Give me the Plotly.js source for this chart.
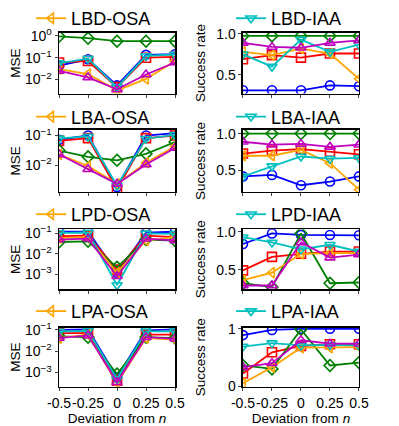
<!DOCTYPE html>
<html>
<head>
<meta charset="utf-8">
<script src="https://cdn.plot.ly/plotly-3.0.1.min.js"></script>
<style>
	html, body { margin: 0; padding: 0; background: #fff; }
	#chart { width: 399px; height: 426px; }
</style>
</head>
<body>
<div id="chart"></div>
<script>
/**
 * Data - x positions shared by every panel
 */
const deviation = [ -0.5, -0.25, 0, 0.25, 0.5 ];
const deviationLabels = [ '-0.5', '-0.25', '0', '0.25', '0.5' ];

const panelTitles = [ 'LBD-OSA', 'LBD-IAA', 'LBA-OSA', 'LBA-IAA', 'LPD-OSA', 'LPD-IAA', 'LPA-OSA', 'LPA-IAA' ];

// rows in each panel: blue, red, green, orange, cyan, magenta
const lbdOsa = [
	[ 0.043, 0.085, 0.0054, 0.135, 0.145 ],
	[ 0.06, 0.071, 0.0045, 0.1, 0.11 ],
	[ 0.95, 0.78, 0.57, 0.57, 0.57 ],
	[ 0.03, 0.018, 0.0032, 0.0107, 0.07 ],
	[ 0.057, 0.091, 0.0045, 0.12, 0.14 ],
	[ 0.025, 0.0126, 0.0036, 0.017, 0.06 ],
];
const lbdIaa = [
	[ 0.31, 0.31, 0.31, 0.37, 0.36 ],
	[ 0.69, 0.74, 0.71, 0.76, 0.76 ],
	[ 0.975, 0.975, 0.975, 0.975, 0.975 ],
	[ 0.78, 0.74, 0.82, 0.76, 0.45 ],
	[ 0.75, 0.6, 0.93, 0.78, 0.87 ],
	[ 0.89, 0.84, 0.83, 0.89, 0.92 ],
];
const lbaOsa = [
	[ 0.072, 0.1, 0.0018, 0.1, 0.12 ],
	[ 0.066, 0.082, 0.0015, 0.082, 0.1 ],
	[ 0.031, 0.019, 0.0145, 0.024, 0.06 ],
	[ 0.023, 0.0093, 0.0023, 0.012, 0.043 ],
	[ 0.08, 0.093, 0.002, 0.078, 0.105 ],
	[ 0.023, 0.0072, 0.0023, 0.0105, 0.038 ],
];
const lbaIaa = [
	[ 0.42, 0.44, 0.3, 0.35, 0.42 ],
	[ 0.73, 0.77, 0.79, 0.755, 0.72 ],
	[ 1, 1, 1, 1, 1 ],
	[ 0.7, 0.7, 0.78, 0.6, 0.24 ],
	[ 0.42, 0.56, 0.69, 0.66, 0.67 ],
	[ 0.89, 0.85, 0.86, 0.82, 0.85 ],
];
const lpdOsa = [
	[ 0.12, 0.12, 0.0012, 0.11, 0.12 ],
	[ 0.074, 0.077, 0.0017, 0.077, 0.066 ],
	[ 0.038, 0.041, 0.0022, 0.05, 0.045 ],
	[ 0.059, 0.066, 0.0012, 0.045, 0.066 ],
	[ 0.105, 0.11, 0.0003, 0.1, 0.095 ],
	[ 0.05, 0.055, 0.0008, 0.055, 0.045 ],
];
const lpdIaa = [
	[ 0.84, 0.98, 0.96, 0.96, 0.955 ],
	[ 0.49, 0.67, 0.71, 0.74, 0.74 ],
	[ 0.32, 0.27, 0.98, 0.32, 0.33 ],
	[ 0.36, 0.46, 0.71, 0.72, 0.72 ],
	[ 0.93, 0.86, 0.77, 0.83, 0.74 ],
	[ 0.29, 0.29, 0.86, 0.66, 0.7 ],
];
const lpaOsa = [
	[ 0.1, 0.105, 0.0006, 0.095, 0.105 ],
	[ 0.07, 0.07, 0.00042, 0.059, 0.059 ],
	[ 0.049, 0.045, 0.00085, 0.045, 0.041 ],
	[ 0.041, 0.059, 0.00032, 0.041, 0.035 ],
	[ 0.083, 0.09, 0.0005, 0.085, 0.085 ],
	[ 0.041, 0.055, 0.00035, 0.045, 0.038 ],
];
const lpaIaa = [
	[ 0.89, 0.98, 1.0, 1.0, 1.0 ],
	[ 0.22, 0.59, 0.7, 0.73, 0.73 ],
	[ 0.36, 0.3, 0.99, 0.36, 0.41 ],
	[ 0.05, 0.33, 0.67, 0.67, 0.68 ],
	[ 0.69, 0.75, 0.71, 0.72, 0.71 ],
	[ 0.33, 0.4, 0.8, 0.74, 0.74 ],
];

const panels = [ lbdOsa, lbdIaa, lbaOsa, lbaIaa, lpdOsa, lpdIaa, lpaOsa, lpaIaa ];

/**
 * Styles
 */
const seriesColors = [ '#0000ff', '#ff0000', '#008000', '#ffa500', '#00bfbf', '#bf00bf' ];
const seriesSymbols = [ 'circle-open', 'square-open', 'diamond-open', 'triangle-left-open', 'triangle-down-open', 'triangle-up-open' ];

const FONT = 'Liberation Sans, Arial, sans-serif';

// sub-plot boxes in paper fractions (0 = bottom)
const colDomains = [ [ 0.148, 0.4386 ], [ 0.609, 0.8997 ] ];
const rowDomains = [ [ 0.7934, 0.939 ], [ 0.5587, 0.7066 ], [ 0.3263, 0.4695 ], [ 0.0939, 0.2347 ] ];
const legendY = [ 0.9725, 0.7378, 0.5047, 0.2735 ];

// y ranges, log panels in log10 units
const yRanges = [
	[ -2.64, 0.15 ], [ 0.27, 1.016 ],
	[ -2.91, -0.81 ], [ 0.21, 1.05 ],
	[ -3.73, -0.8 ], [ 0.24, 1.035 ],
	[ -3.66, -0.9 ], [ -0.01, 1.02 ],
];

const logTicks = [ 1, 0.1, 0.01, 0.001 ];
const logLabels = [ '10<sup>0</sup>', '10<sup>\u22121</sup>', '10<sup>\u22122</sup>', '10<sup>\u22123</sup>' ];

/**
 * Build axes + traces
 */
const data = [];
const layout = {
	width: 399,
	height: 426,
	margin: { l: 0, r: 0, t: 0, b: 0 },
	paper_bgcolor: '#fff',
	plot_bgcolor: '#fff',
	font: { family: FONT, size: 14, color: '#000' },
	hovermode: false,
};

panels.forEach(( panel, i ) => {
	const row = Math.floor(i / 2);
	const col = i % 2;
	const n = i + 1;
	const xName = n === 1 ? 'xaxis' : 'xaxis' + n;
	const yName = n === 1 ? 'yaxis' : 'yaxis' + n;
	const isMSE = col === 0;
	const isBottom = row === 3;

	layout[xName] = {
		domain: colDomains[col],
		anchor: 'y' + n,
		range: [ -0.5, 0.5 ],
		tickvals: deviation,
		ticktext: deviationLabels,
		tickangle: 0,
		showticklabels: isBottom,
		ticks: 'outside',
		ticklen: 3,
		tickwidth: 1,
		showline: true,
		mirror: true,
		linecolor: '#000',
		linewidth: 1.5,
		showgrid: false,
		zeroline: false,
		tickfont: { size: 14 },
		title: isBottom ? { text: 'Deviation from <i>n</i>', font: { size: 13.5 }, standoff: 1 } : { text: '' },
	};

	const yAxis = {
		domain: rowDomains[row],
		anchor: 'x' + n,
		range: yRanges[i],
		ticks: 'outside',
		ticklen: 3,
		tickwidth: 1,
		showline: true,
		mirror: true,
		linecolor: '#000',
		linewidth: 1.5,
		showgrid: false,
		zeroline: false,
		tickfont: { size: 14 },
		title: { text: isMSE ? 'MSE' : 'Success rate', font: { size: 13.5 } },
	};
	if( isMSE ){
		yAxis.type = 'log';
		yAxis.tickvals = logTicks;
		yAxis.ticktext = logLabels;
	} else if( row === 3 ){
		yAxis.tickvals = [ 0, 1 ];
		yAxis.ticktext = [ '0', '1' ];
	} else {
		yAxis.tickvals = [ 0.5, 1.0 ];
		yAxis.ticktext = [ '0.5', '1.0' ];
	}
	layout[yName] = yAxis;

	// one legend per panel, showing a single series
	const legendName = n === 1 ? 'legend' : 'legend' + n;
	const legendSeries = isMSE ? 3 : 4;
	layout[legendName] = {
		x: col === 0 ? 0.078 : 0.579,
		xanchor: 'left',
		y: legendY[row],
		yanchor: 'middle',
		bgcolor: 'rgba(0,0,0,0)',
		borderwidth: 0,
		font: { size: 18, family: FONT },
	};

	panel.forEach(( values, s ) => {
		data.push({
			x: deviation,
			y: values,
			xaxis: 'x' + n,
			yaxis: 'y' + n,
			type: 'scatter',
			mode: 'lines+markers',
			name: panelTitles[i],
			legend: legendName,
			showlegend: s === legendSeries,
			line: { color: seriesColors[s], width: 1.8 },
			marker: {
				symbol: seriesSymbols[s],
				size: 9,
				color: seriesColors[s],
				line: { color: seriesColors[s], width: 1.6 },
			},
		});
	});
});

Plotly.newPlot('chart', data, layout, { displayModeBar: false, staticPlot: true });
</script>
</body>
</html>
